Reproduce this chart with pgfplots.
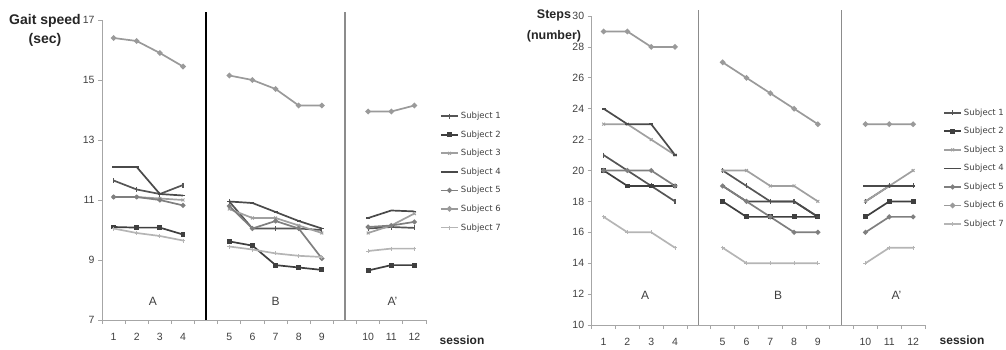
\documentclass[border=0pt]{standalone}
\usepackage{fontspec}
\setmainfont{Liberation Sans}
\newfontfamily\legfont{DejaVu Sans}
\usepackage{pgfplots}
\pgfplotsset{compat=1.18}
\usepackage{pgfplotstable}

\definecolor{axgray}{HTML}{A6A6A6}
\definecolor{sepgray}{HTML}{8C8C8C}
\definecolor{txtgray}{HTML}{404040}
\definecolor{cSa}{HTML}{555555}
\definecolor{cSb}{HTML}{3F3F3F}
\definecolor{cSc}{HTML}{A0A0A0}
\definecolor{cSd}{HTML}{4A4A4A}
\definecolor{cSe}{HTML}{7F7F7F}
\definecolor{cSf}{HTML}{9A9A9A}
\definecolor{cSg}{HTML}{B5B5B5}

% x: sessions 1-4 -> 1..4, sessions 5-9 -> 6..10, sessions 10-12 -> 12..14
\pgfplotstableread{
x  s1    s2    s3    s4    s5    s6    s7
1  11.65 10.10 11.10 12.10 11.10 16.40 10.05
2  11.35 10.08 11.10 12.10 11.10 16.30 9.90
3  11.20 10.08 11.05 11.20 11.00 15.90 9.80
4  11.50 9.85  11.00 11.15 10.82 15.45 9.65
5  nan   nan   nan   nan   nan   nan   nan
6  10.95 9.62  10.70 10.95 10.80 15.15 9.45
7  10.05 9.48  10.40 10.90 10.05 15.00 9.35
8  10.05 8.83  10.40 10.60 10.30 14.70 9.22
9  10.05 8.75  10.15 10.30 10.05 14.15 9.14
10 10.00 8.67  9.90  10.05 9.05  14.15 9.10
11 nan   nan   nan   nan   nan   nan   nan
12 10.05 8.65  9.90  10.40 10.10 13.95 9.30
13 10.10 8.83  10.15 10.65 10.15 13.95 9.38
14 10.07 8.83  10.55 10.62 10.27 14.15 9.38
}\gait

\pgfplotstableread{
x  s1 s2 s3 s4 s5 s6 s7
1  21 20 23 24 20 29 17
2  20 19 23 23 20 29 16
3  19 19 22 23 20 28 16
4  18 19 21 21 19 28 15
5  nan nan nan nan nan nan nan
6  20 18 20 19 19 27 15
7  19 17 20 18 18 26 14
8  18 17 19 18 17 25 14
9  18 17 19 18 16 24 14
10 17 17 18 17 16 23 14
11 nan nan nan nan nan nan nan
12 18 17 18 19 16 23 14
13 19 18 19 19 17 23 15
14 19 18 20 19 17 23 15
}\steps

\pgfplotsset{
  base/.style={
    scale only axis,
    anchor=south west,
    axis x line*=bottom, axis y line*=left,
    axis line style={draw=axgray, line width=1pt},
    xmin=0.5, xmax=14.5,
    xtick={1,2,3,4,6,7,8,9,10,12,13,14},
    xticklabels={1,2,3,4,5,6,7,8,9,10,11,12},
    major x tick style={draw=none},
    minor xtick={0.5,1.5,...,14.5},
    minor x tick style={draw=axgray, line width=0.8pt},
    minor tick length=4pt,
    major tick length=4pt,
    tick align=outside,
    y tick style={draw=axgray, line width=0.8pt},
    /pgf/number format/assume math mode=true,
    tick label style={font=\fontsize{10.5}{12}\selectfont, text=txtgray},
    xticklabel style={yshift=-6pt},
    unbounded coords=jump,
    clip=false,
    every axis plot/.append style={line width=1.7pt},
    legend cell align=left,
    legend style={draw=none, fill=none, anchor=north west,
      font=\legfont\fontsize{8.5}{9}\selectfont, text=txtgray, row sep=6.6pt,
      inner sep=0pt},
  },
  pA/.style={color=cSa, mark=|, mark size=2.5pt, mark options={line width=1.2pt}},
  pB/.style={color=cSb, mark=square*, mark size=1.6pt},
  pC/.style={color=cSc, mark=x, mark size=2pt, mark options={line width=1pt}},
  pD/.style={color=cSd, mark=-, mark size=2pt},
  pE/.style={color=cSe, mark=*, mark size=1.5pt},
  pF/.style={color=cSf, mark=*, mark size=1.8pt},
  pG/.style={color=cSg, mark=+, mark size=2pt, mark options={line width=0.8pt}},
}

\begin{document}
\begin{tikzpicture}[x=1pt,y=1pt]
\useasboundingbox (0,0) rectangle (1006,349);

\node[font=\fontsize{14}{19}\selectfont\bfseries, align=center, text=black!85] at (45,319) {Gait speed\\(sec)};
\node[font=\fontsize{12.5}{21}\selectfont\bfseries, align=center, text=black!85] at (554,323) {Steps\\(number)};
\node[font=\fontsize{12}{14}\selectfont\bfseries, text=black!85] at (462,9) {session};
\node[font=\fontsize{12}{14}\selectfont\bfseries, text=black!85] at (962,9) {session};

\begin{axis}[base, at={(102pt,29pt)}, width=324pt, height=300pt,
  ymin=7, ymax=17, ytick={7,9,...,17},
  legend style={at={(1.043,0.70)}}]
\addplot[pA] table[x=x,y=s1]{\gait}; \addlegendentry{Subject 1}
\addplot[pB] table[x=x,y=s2]{\gait}; \addlegendentry{Subject 2}
\addplot[pC] table[x=x,y=s3]{\gait}; \addlegendentry{Subject 3}
\addplot[pD] table[x=x,y=s4]{\gait}; \addlegendentry{Subject 4}
\addplot[pE] table[x=x,y=s5]{\gait}; \addlegendentry{Subject 5}
\addplot[pF] table[x=x,y=s6]{\gait}; \addlegendentry{Subject 6}
\addplot[pG] table[x=x,y=s7]{\gait}; \addlegendentry{Subject 7}
\draw[black, line width=1.6pt] (axis cs:5,7) -- (axis cs:5,17.27);
\draw[sepgray, line width=1.3pt] (axis cs:11,7) -- (axis cs:11,17.27);
\node[font=\fontsize{12}{14}\selectfont, text=txtgray] at (axis cs:2.7,7.63) {A};
\node[font=\fontsize{12}{14}\selectfont, text=txtgray] at (axis cs:8,7.63) {B};
\node[font=\fontsize{12}{14}\selectfont, text=txtgray] at (axis cs:13.05,7.63) {A'};
\end{axis}

\begin{axis}[base, at={(591.7pt,24pt)}, width=333.3pt, height=309pt,
  ymin=10, ymax=30, ytick={10,12,...,30},
  legend style={at={(1.054,0.707)}}]
\addplot[pA] table[x=x,y=s1]{\steps}; \addlegendentry{Subject 1}
\addplot[pB] table[x=x,y=s2]{\steps}; \addlegendentry{Subject 2}
\addplot[pC] table[x=x,y=s3]{\steps}; \addlegendentry{Subject 3}
\addplot[pD] table[x=x,y=s4]{\steps}; \addlegendentry{Subject 4}
\addplot[pE] table[x=x,y=s5]{\steps}; \addlegendentry{Subject 5}
\addplot[pF] table[x=x,y=s6]{\steps}; \addlegendentry{Subject 6}
\addplot[pG] table[x=x,y=s7]{\steps}; \addlegendentry{Subject 7}
\draw[sepgray, line width=1.3pt] (axis cs:5,10) -- (axis cs:5,30.4);
\draw[sepgray, line width=1.3pt] (axis cs:11,10) -- (axis cs:11,30.4);
\node[font=\fontsize{12}{14}\selectfont, text=txtgray] at (axis cs:2.74,11.9) {A};
\node[font=\fontsize{12}{14}\selectfont, text=txtgray] at (axis cs:8.33,11.9) {B};
\node[font=\fontsize{12}{14}\selectfont, text=txtgray] at (axis cs:13.3,11.9) {A'};
\end{axis}
\end{tikzpicture}
\end{document}
